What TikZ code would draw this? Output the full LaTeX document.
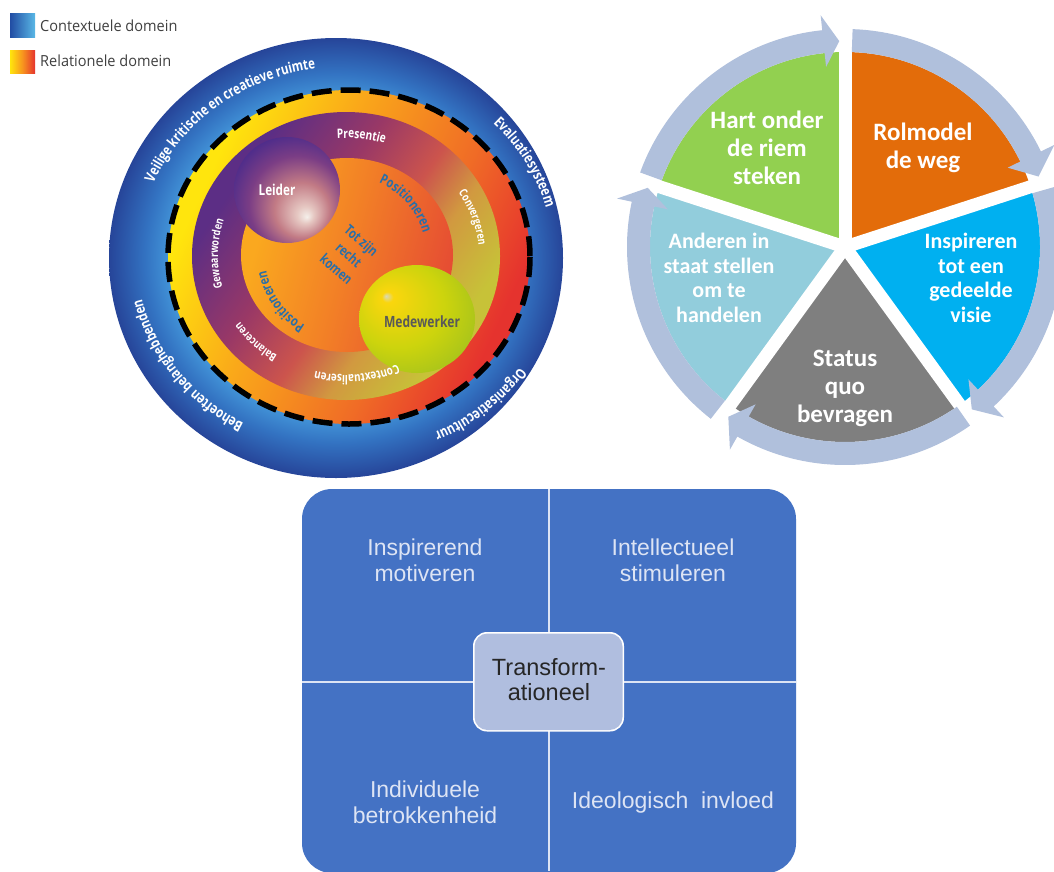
\documentclass[tikz,border=0pt]{standalone}
\usepackage{fontspec}
\setmainfont{Carlito}
\usetikzlibrary{decorations.text}
\newfontfamily\condfont[FakeStretch=0.78]{Open Sans}
\newfontfamily\legfont[FakeStretch=0.95]{Open Sans}
\newfontfamily\arialfont{Liberation Sans}
\definecolor{ringc}{HTML}{B0C0DC}
\definecolor{bluetxt}{HTML}{2A6FA8}
\definecolor{panelblue}{HTML}{4472C4}
\definecolor{panellight}{HTML}{DDE4F4}
\definecolor{pieorange}{HTML}{E36C0A}
\definecolor{pieblue}{HTML}{00B0F0}
\definecolor{piegray}{HTML}{7F7F7F}
\definecolor{pielight}{HTML}{92CDDC}
\definecolor{piegreen}{HTML}{92D050}
\definecolor{centerbox}{HTML}{B0BEDF}
\pgfdeclareradialshading{outerdisc}{\pgfpointorigin}{
  rgb(0bp)=(0.29,0.64,0.88);
  rgb(18bp)=(0.27,0.60,0.86);
  rgb(21bp)=(0.20,0.45,0.76);
  rgb(25bp)=(0.15,0.27,0.60);
  rgb(50bp)=(0.15,0.27,0.60)}
\pgfdeclarehorizontalshading{yrring}{100bp}{
  rgb(0bp)=(1,0.90,0.05);
  rgb(27bp)=(1,0.90,0.05);
  rgb(42bp)=(0.98,0.66,0.10);
  rgb(60bp)=(0.94,0.42,0.15);
  rgb(73bp)=(0.90,0.20,0.18);
  rgb(100bp)=(0.90,0.20,0.18)}
\pgfdeclarehorizontalshading{midring}{100bp}{
  rgb(0bp)=(0.36,0.18,0.52);
  rgb(28bp)=(0.36,0.18,0.52);
  rgb(42bp)=(0.60,0.22,0.40);
  rgb(53bp)=(0.80,0.33,0.30);
  rgb(61bp)=(0.82,0.60,0.25);
  rgb(72bp)=(0.78,0.76,0.22);
  rgb(100bp)=(0.78,0.76,0.22)}
\pgfdeclarehorizontalshading{innerorange}{100bp}{
  rgb(0bp)=(0.98,0.66,0.12);
  rgb(28bp)=(0.98,0.66,0.12);
  rgb(50bp)=(0.95,0.50,0.15);
  rgb(75bp)=(0.90,0.30,0.20);
  rgb(100bp)=(0.90,0.30,0.20)}
\pgfdeclareradialshading{leidersh}{\pgfpoint{9.4bp}{-12.7bp}}{
  rgb(0bp)=(0.96,0.94,0.92);
  rgb(4bp)=(0.90,0.78,0.76);
  rgb(13bp)=(0.76,0.48,0.52);
  rgb(23bp)=(0.48,0.24,0.52);
  rgb(33bp)=(0.27,0.16,0.55);
  rgb(50bp)=(0.27,0.16,0.55)}
\pgfdeclareradialshading{medewsh}{\pgfpoint{-13.4bp}{10.7bp}}{
  rgb(0bp)=(0.85,0.85,0.72);
  rgb(2.5bp)=(0.98,0.84,0.05);
  rgb(20bp)=(0.80,0.83,0.05);
  rgb(42bp)=(0.55,0.72,0.15);
  rgb(50bp)=(0.55,0.72,0.15)}
\pgfdeclarehorizontalshading{legblue}{100bp}{
  rgb(0bp)=(0.13,0.30,0.64);
  rgb(25bp)=(0.13,0.30,0.64);
  rgb(75bp)=(0.35,0.72,0.90);
  rgb(100bp)=(0.35,0.72,0.90)}
\pgfdeclarehorizontalshading{legred}{100bp}{
  rgb(0bp)=(1,0.90,0.05);
  rgb(25bp)=(1,0.90,0.05);
  rgb(50bp)=(0.97,0.58,0.12);
  rgb(75bp)=(0.90,0.20,0.18);
  rgb(100bp)=(0.90,0.20,0.18)}
% #1 cx #2 cy #3 rx #4 ry #5 mid angle #6 half span #7 format #8 text
\newcommand\ArcText[8]{%
  \pgfmathsetmacro\angA{#5-#6}\pgfmathsetmacro\angB{#5+#6}%
  \path[decorate,decoration={text along path,text align=center,text={|#7|#8}}]
    ({#1+#3*cos(\angA)},{#2+#4*sin(\angA)}) arc[start angle=\angA,end angle=\angB,x radius=#3,y radius=#4];}
% #1 start angle, #2 head base angle, #3 tip angle (math angles, screen sense)
\newcommand\RingArrow[3]{%
  \fill[ringc] ({845+218*cos(#1)},{247-218*sin(#1)})
    arc[start angle={-(#1)},end angle={-(#2)},radius=218]
    -- ({845+233*cos(#2)},{247-233*sin(#2)})
    -- ({845+206*cos(#3)},{247-206*sin(#3)})
    -- ({845+181*cos(#2)},{247-181*sin(#2)})
    -- ({845+195*cos(#2)},{247-195*sin(#2)})
    arc[start angle={-(#2)},end angle={-(#1)},radius=195] -- cycle;}
\newcommand\Slice[3]{%
  \fill[#3] (845,247) -- ({845+195*cos(#1)},{247-195*sin(#1)})
    arc[start angle={-(#1)},end angle={-(#2)},radius=195] -- cycle;}
\newcommand\Gap[1]{\draw[white,line width=13pt] (845,247) -- ({845+240*cos(#1)},{247-240*sin(#1)});}
\tikzset{
  pielabel/.style={text=white,align=center,font=\fontsize{25}{28}\selectfont\bfseries,inner sep=0pt},
  pielabelsmall/.style={text=white,align=center,font=\fontsize{22}{24.7}\selectfont\bfseries,inner sep=0pt},
  quadlabel/.style={text=panellight,align=center,font=\arialfont\fontsize{23}{26}\selectfont,inner sep=0pt},
  legendlabel/.style={text=black!75,anchor=west,font=\legfont\fontsize{15.3}{16}\selectfont,inner sep=0pt}
}
\newcommand\bfc[1]{\condfont\bfseries\fontsize{#1}{#1}\selectfont}
\begin{document}
\begin{tikzpicture}[x=1pt,y=-1pt]
\clip (0,0) rectangle (1054,871);
\fill[white] (0,0) rectangle (1054,871);
% legend
\shade[shading=legblue] (10,13) rectangle (35,37);
\shade[shading=legred] (10,50) rectangle (35,73);
\node[legendlabel] (legc) at (40,26) {Contextuele domein};
\node[legendlabel] (legr) at (40,61) {Relationele domein};
% left disc
\shade[shading=outerdisc] (336,258) ellipse[x radius=227,y radius=220];
\shade[shading=yrring,shading angle=-25] (349,257) ellipse[x radius=181,y radius=167];
\draw[black,line width=5.5pt,dash pattern=on 20pt off 9pt] (349,257) ellipse[x radius=181,y radius=167];
\shade[shading=midring,shading angle=-35] (346,256) ellipse[x radius=154,y radius=144];
\shade[shading=innerorange,shading angle=-15] (347,255) ellipse[x radius=106,y radius=97];
\shade[shading=leidersh] (287,190) circle[radius=53];
\shade[shading=medewsh] (417,319) ellipse[x radius=58,y radius=54];
\node[text=white,font=\bfc{15},inner sep=0pt] (leider) at (277,190) {Leider};
\node[text=black!65,font=\bfc{15.5},inner sep=0pt] (medew) at (422,322) {Medewerker};
\node[text=bluetxt,align=center,rotate=-41,font=\condfont\bfseries\fontsize{14}{19}\selectfont,inner sep=0pt] (tot) at (349,255) {Tot zijn\\recht\\komen};
\def\fa{\bfc{14.7}\color{white}}
\def\fc{\bfc{14}\color{bluetxt}}
\ArcText{345}{257}{208}{190}{231.5}{50}{\fa}{Veilige kritische en creatieve ruimte}
\ArcText{345}{257}{208}{190}{331}{40}{\fa}{Evaluatiesysteem}
\ArcText{345}{257}{212}{194}{49}{40}{\fa}{Organisatiecultuur}
\ArcText{345}{257}{208}{190}{144}{45}{\fa}{Behoeften belanghebbenden}
\ArcText{346}{256}{128}{118}{277}{40}{\bfc{13}\color{white}}{Presentie}
\ArcText{346}{256}{133}{118}{342}{40}{\bfc{11.5}\color{white}}{Convergeren}
\ArcText{346}{256}{128}{119}{85}{40}{\bfc{12.5}\color{white}}{Contextualiseren}
\ArcText{346}{256}{128}{118}{135}{40}{\bfc{11.5}\color{white}}{Balanceren}
\ArcText{346}{256}{128}{118}{181}{40}{\bfc{11.5}\color{white}}{Gewaarworden}
\ArcText{347}{255}{79}{79}{-41}{60}{\fc}{Positioneren}
\ArcText{347}{255}{82}{82}{145}{60}{\fc}{Positioneren}
% right pie
\Slice{90}{18}{pieorange}
\Slice{18}{-54}{pieblue}
\Slice{-54}{-126}{piegray}
\Slice{234}{162}{pielight}
\Slice{162}{90}{piegreen}
\Gap{90}\Gap{18}\Gap{-54}\Gap{234}\Gap{162}
\RingArrow{88}{26}{20}
\RingArrow{16}{-47}{-52}
\RingArrow{-55}{-119.6}{-124.5}
\RingArrow{232}{168}{163.3}
\RingArrow{160}{96}{91.6}
\node[pielabel] (hart) at (767,148) {Hart onder\\de riem\\steken};
\node[pielabel] (rol) at (923,148) {Rolmodel\\de weg};
\node[pielabelsmall] (insp) at (971,278) {Inspireren\\tot een\\gedeelde\\visie};
\node[pielabelsmall] (and) at (719,278) {Anderen in\\staat stellen\\om te\\handelen};
\node[pielabel] (stat) at (845,388) {Status\\quo\\bevragen};
% bottom panel
\fill[panelblue,rounded corners=30pt] (302,489) rectangle (796,873);
\draw[panellight,line width=1.5pt] (549,489) -- (549,871);
\draw[panellight,line width=1.5pt] (302,682) -- (796,682);
\fill[white,rounded corners=14pt] (473,632) rectangle (624,731.5);
\fill[centerbox,rounded corners=13pt] (474.5,633.5) rectangle (622.5,730);
\node[text=black!85,align=center,font=\arialfont\fontsize{23.5}{25}\selectfont,inner sep=0pt] (trans) at (549,680) {Transform-\\ationeel};
\node[quadlabel] (q1) at (425,560) {Inspirerend\\motiveren};
\node[quadlabel] (q2) at (673,560) {Intellectueel\\stimuleren};
\node[quadlabel] (q3) at (425,802) {Individuele\\betrokkenheid};
\node[quadlabel] (q4) at (673,803) {Ideologisch\ \ invloed};
\end{tikzpicture}
\end{document}
